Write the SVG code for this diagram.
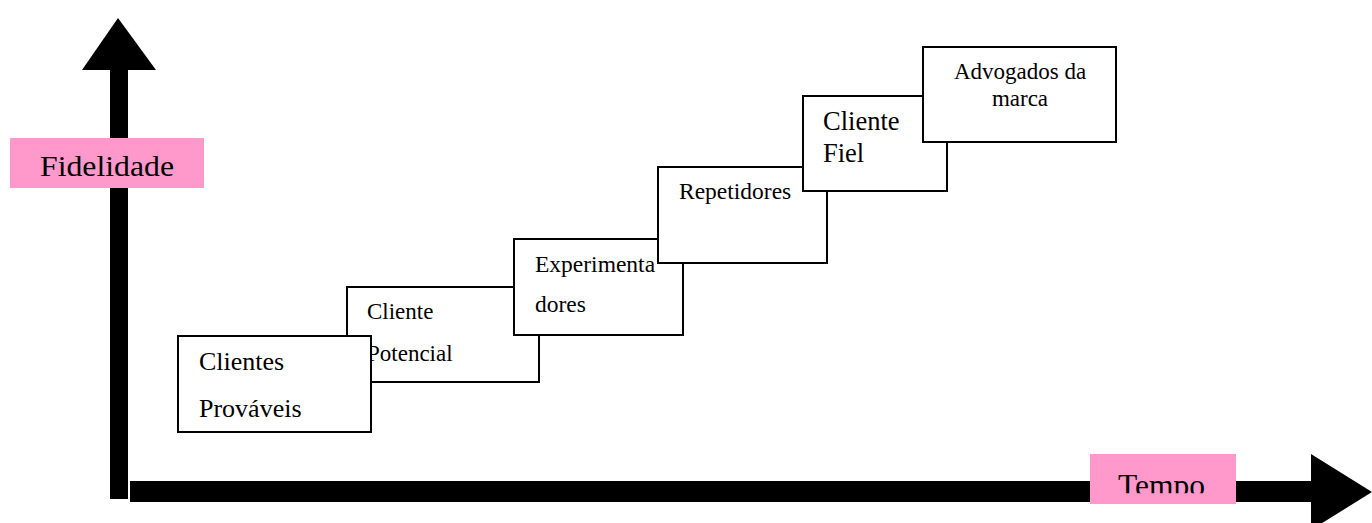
<svg xmlns="http://www.w3.org/2000/svg" width="1372" height="523" viewBox="0 0 1372 523">
<style>
.box{fill:#fff;stroke:#000;stroke-width:2}
.t{font-family:"Liberation Serif","Times New Roman",serif;fill:#000}
.lbl{fill:#ff99cc}
</style>
<defs>
<clipPath id="tclip"><rect x="1090" y="454" width="146" height="39.3"/></clipPath>
</defs>
<rect width="1372" height="523" fill="#fff"/>
<g id="connectors">
<rect x="110" y="68" width="18" height="431" fill="#000"/>
<polygon points="82,70 156,70 118,18" fill="#000"/>
<rect x="130" y="481" width="1183" height="21" fill="#000"/>
<polygon points="1311,454 1311,530 1372,492" fill="#000"/>
</g>
<g id="label-fidelidade">
<rect class="lbl" x="10" y="138" width="194" height="50"/>
<text class="t" x="40" y="176" font-size="29.5" textLength="134" lengthAdjust="spacingAndGlyphs">Fidelidade</text>
</g>
<g id="label-tempo">
<rect class="lbl" x="1090" y="454" width="146" height="50"/>
<text class="t" x="1118" y="495.5" font-size="31.5" clip-path="url(#tclip)">Tempo</text>
</g>
<g id="node-potencial">
<rect class="box" x="347" y="287" width="192" height="95"/>
<text class="t" x="367" y="319" font-size="23">Cliente</text>
<text class="t" x="367" y="361" font-size="23">Potencial</text>
</g>
<g id="node-provaveis">
<rect class="box" x="178" y="336" width="193" height="96"/>
<text class="t" x="199" y="370" font-size="26">Clientes</text>
<text class="t" x="199" y="417" font-size="26">Prováveis</text>
</g>
<g id="node-experimentadores">
<rect class="box" x="514" y="239" width="169" height="96"/>
<text class="t" x="535" y="272" font-size="23.5">Experimenta</text>
<text class="t" x="535" y="312" font-size="23.5">dores</text>
</g>
<g id="node-repetidores">
<rect class="box" x="658" y="167" width="169" height="96"/>
<text class="t" x="679" y="199" font-size="23.5">Repetidores</text>
</g>
<g id="node-fiel">
<rect class="box" x="803" y="96" width="144" height="95"/>
<text class="t" x="823" y="130" font-size="26.5">Cliente</text>
<text class="t" x="823" y="162" font-size="26.5">Fiel</text>
</g>
<g id="node-advogados">
<rect class="box" x="923" y="47" width="193" height="95"/>
<text class="t" x="1020" y="79" font-size="23" text-anchor="middle">Advogados da</text>
<text class="t" x="1020" y="106" font-size="23" text-anchor="middle">marca</text>
</g>
</svg>
